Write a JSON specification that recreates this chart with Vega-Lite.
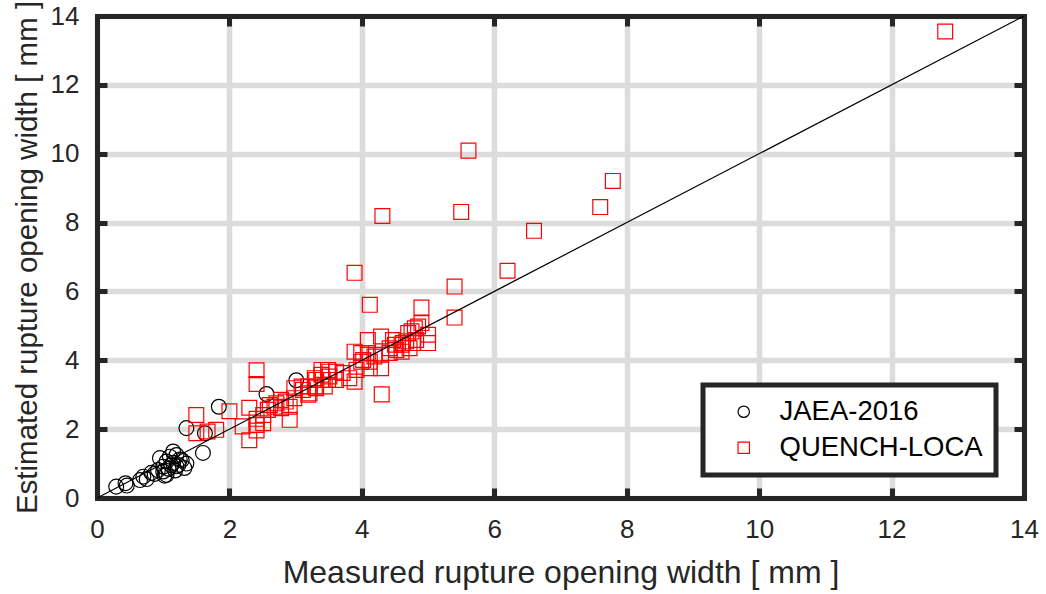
{
  "$schema": "https://vega.github.io/schema/vega-lite/v6.json",
  "width": 927,
  "height": 482,
  "autosize": "none",
  "padding": {"left": 97, "top": 16, "right": 22, "bottom": 96},
  "background": "white",
  "config": {
    "font": "Liberation Sans",
    "view": {"stroke": null},
    "legend": {"strokeWidth": 5},
    "axis": {
      "domainColor": "#262626",
      "domainWidth": 5,
      "domainCap": "square",
      "tickColor": "#262626",
      "tickWidth": 5,
      "tickSize": -10,
      "labelColor": "#262626",
      "labelFont": "Liberation Sans",
      "labelFontSize": 26,
      "labelFlush": false,
      "labelOverlap": false,
      "titleColor": "#262626",
      "titleFont": "Liberation Sans",
      "titleFontWeight": "normal",
      "gridColor": "#dcdcdc",
      "gridWidth": 5.5
    }
  },
  "datasets": {
    "widths": [
      {"dataset": "JAEA-2016", "measured": 0.29, "estimated": 0.33},
      {"dataset": "JAEA-2016", "measured": 0.45, "estimated": 0.36},
      {"dataset": "JAEA-2016", "measured": 0.43, "estimated": 0.43},
      {"dataset": "JAEA-2016", "measured": 0.65, "estimated": 0.52},
      {"dataset": "JAEA-2016", "measured": 0.75, "estimated": 0.55},
      {"dataset": "JAEA-2016", "measured": 0.70, "estimated": 0.62},
      {"dataset": "JAEA-2016", "measured": 0.82, "estimated": 0.73},
      {"dataset": "JAEA-2016", "measured": 0.87, "estimated": 0.70},
      {"dataset": "JAEA-2016", "measured": 0.92, "estimated": 0.81},
      {"dataset": "JAEA-2016", "measured": 0.95, "estimated": 1.16},
      {"dataset": "JAEA-2016", "measured": 1.00, "estimated": 0.91},
      {"dataset": "JAEA-2016", "measured": 1.00, "estimated": 0.77},
      {"dataset": "JAEA-2016", "measured": 1.02, "estimated": 0.65},
      {"dataset": "JAEA-2016", "measured": 1.05, "estimated": 1.06},
      {"dataset": "JAEA-2016", "measured": 1.05, "estimated": 0.67},
      {"dataset": "JAEA-2016", "measured": 1.08, "estimated": 0.85},
      {"dataset": "JAEA-2016", "measured": 1.10, "estimated": 1.20},
      {"dataset": "JAEA-2016", "measured": 1.12, "estimated": 0.95},
      {"dataset": "JAEA-2016", "measured": 1.15, "estimated": 1.02},
      {"dataset": "JAEA-2016", "measured": 1.15, "estimated": 1.35},
      {"dataset": "JAEA-2016", "measured": 1.18, "estimated": 0.80},
      {"dataset": "JAEA-2016", "measured": 1.20, "estimated": 1.25},
      {"dataset": "JAEA-2016", "measured": 1.20, "estimated": 0.92},
      {"dataset": "JAEA-2016", "measured": 1.23, "estimated": 0.96},
      {"dataset": "JAEA-2016", "measured": 1.25, "estimated": 1.12},
      {"dataset": "JAEA-2016", "measured": 1.28, "estimated": 1.10},
      {"dataset": "JAEA-2016", "measured": 1.32, "estimated": 0.87},
      {"dataset": "JAEA-2016", "measured": 1.35, "estimated": 1.00},
      {"dataset": "JAEA-2016", "measured": 1.35, "estimated": 2.03},
      {"dataset": "JAEA-2016", "measured": 1.60, "estimated": 1.31},
      {"dataset": "JAEA-2016", "measured": 1.63, "estimated": 1.88},
      {"dataset": "JAEA-2016", "measured": 1.84, "estimated": 2.65},
      {"dataset": "JAEA-2016", "measured": 2.56, "estimated": 3.02},
      {"dataset": "JAEA-2016", "measured": 3.01, "estimated": 3.42},
      {"dataset": "QUENCH-LOCA", "measured": 12.81, "estimated": 13.55},
      {"dataset": "QUENCH-LOCA", "measured": 5.61, "estimated": 10.09},
      {"dataset": "QUENCH-LOCA", "measured": 7.79, "estimated": 9.21},
      {"dataset": "QUENCH-LOCA", "measured": 7.60, "estimated": 8.45},
      {"dataset": "QUENCH-LOCA", "measured": 4.31, "estimated": 8.19},
      {"dataset": "QUENCH-LOCA", "measured": 5.50, "estimated": 8.31},
      {"dataset": "QUENCH-LOCA", "measured": 6.60, "estimated": 7.76},
      {"dataset": "QUENCH-LOCA", "measured": 6.20, "estimated": 6.60},
      {"dataset": "QUENCH-LOCA", "measured": 3.89, "estimated": 6.54},
      {"dataset": "QUENCH-LOCA", "measured": 5.40, "estimated": 6.14},
      {"dataset": "QUENCH-LOCA", "measured": 4.12, "estimated": 5.61},
      {"dataset": "QUENCH-LOCA", "measured": 5.40, "estimated": 5.24},
      {"dataset": "QUENCH-LOCA", "measured": 4.90, "estimated": 5.53},
      {"dataset": "QUENCH-LOCA", "measured": 4.90, "estimated": 5.08},
      {"dataset": "QUENCH-LOCA", "measured": 4.30, "estimated": 3.01},
      {"dataset": "QUENCH-LOCA", "measured": 1.50, "estimated": 2.41},
      {"dataset": "QUENCH-LOCA", "measured": 1.50, "estimated": 1.88},
      {"dataset": "QUENCH-LOCA", "measured": 1.67, "estimated": 1.93},
      {"dataset": "QUENCH-LOCA", "measured": 1.80, "estimated": 1.98},
      {"dataset": "QUENCH-LOCA", "measured": 2.00, "estimated": 2.52},
      {"dataset": "QUENCH-LOCA", "measured": 2.41, "estimated": 3.71},
      {"dataset": "QUENCH-LOCA", "measured": 2.41, "estimated": 3.31},
      {"dataset": "QUENCH-LOCA", "measured": 2.30, "estimated": 2.62},
      {"dataset": "QUENCH-LOCA", "measured": 2.20, "estimated": 2.08},
      {"dataset": "QUENCH-LOCA", "measured": 2.30, "estimated": 1.68},
      {"dataset": "QUENCH-LOCA", "measured": 2.41, "estimated": 2.30},
      {"dataset": "QUENCH-LOCA", "measured": 2.41, "estimated": 2.12},
      {"dataset": "QUENCH-LOCA", "measured": 2.41, "estimated": 1.96},
      {"dataset": "QUENCH-LOCA", "measured": 2.51, "estimated": 2.17},
      {"dataset": "QUENCH-LOCA", "measured": 2.51, "estimated": 2.41},
      {"dataset": "QUENCH-LOCA", "measured": 2.58, "estimated": 2.56},
      {"dataset": "QUENCH-LOCA", "measured": 2.61, "estimated": 2.70},
      {"dataset": "QUENCH-LOCA", "measured": 2.68, "estimated": 2.65},
      {"dataset": "QUENCH-LOCA", "measured": 2.71, "estimated": 2.75},
      {"dataset": "QUENCH-LOCA", "measured": 2.78, "estimated": 2.85},
      {"dataset": "QUENCH-LOCA", "measured": 2.78, "estimated": 2.61},
      {"dataset": "QUENCH-LOCA", "measured": 2.85, "estimated": 2.80},
      {"dataset": "QUENCH-LOCA", "measured": 2.91, "estimated": 2.27},
      {"dataset": "QUENCH-LOCA", "measured": 2.91, "estimated": 2.65},
      {"dataset": "QUENCH-LOCA", "measured": 2.98, "estimated": 2.90},
      {"dataset": "QUENCH-LOCA", "measured": 2.98, "estimated": 3.19},
      {"dataset": "QUENCH-LOCA", "measured": 3.09, "estimated": 3.24},
      {"dataset": "QUENCH-LOCA", "measured": 3.11, "estimated": 3.14},
      {"dataset": "QUENCH-LOCA", "measured": 3.19, "estimated": 3.00},
      {"dataset": "QUENCH-LOCA", "measured": 3.19, "estimated": 3.24},
      {"dataset": "QUENCH-LOCA", "measured": 3.21, "estimated": 3.04},
      {"dataset": "QUENCH-LOCA", "measured": 3.29, "estimated": 3.24},
      {"dataset": "QUENCH-LOCA", "measured": 3.29, "estimated": 3.48},
      {"dataset": "QUENCH-LOCA", "measured": 3.31, "estimated": 3.19},
      {"dataset": "QUENCH-LOCA", "measured": 3.31, "estimated": 3.43},
      {"dataset": "QUENCH-LOCA", "measured": 3.39, "estimated": 3.58},
      {"dataset": "QUENCH-LOCA", "measured": 3.39, "estimated": 3.72},
      {"dataset": "QUENCH-LOCA", "measured": 3.41, "estimated": 3.43},
      {"dataset": "QUENCH-LOCA", "measured": 3.44, "estimated": 3.24},
      {"dataset": "QUENCH-LOCA", "measured": 3.49, "estimated": 3.72},
      {"dataset": "QUENCH-LOCA", "measured": 3.49, "estimated": 3.43},
      {"dataset": "QUENCH-LOCA", "measured": 3.51, "estimated": 3.53},
      {"dataset": "QUENCH-LOCA", "measured": 3.51, "estimated": 3.67},
      {"dataset": "QUENCH-LOCA", "measured": 3.61, "estimated": 3.67},
      {"dataset": "QUENCH-LOCA", "measured": 3.61, "estimated": 3.43},
      {"dataset": "QUENCH-LOCA", "measured": 3.71, "estimated": 3.63},
      {"dataset": "QUENCH-LOCA", "measured": 3.81, "estimated": 3.48},
      {"dataset": "QUENCH-LOCA", "measured": 3.89, "estimated": 4.25},
      {"dataset": "QUENCH-LOCA", "measured": 3.89, "estimated": 3.38},
      {"dataset": "QUENCH-LOCA", "measured": 3.92, "estimated": 3.72},
      {"dataset": "QUENCH-LOCA", "measured": 3.99, "estimated": 4.21},
      {"dataset": "QUENCH-LOCA", "measured": 3.99, "estimated": 3.96},
      {"dataset": "QUENCH-LOCA", "measured": 4.02, "estimated": 4.01},
      {"dataset": "QUENCH-LOCA", "measured": 4.09, "estimated": 4.59},
      {"dataset": "QUENCH-LOCA", "measured": 4.09, "estimated": 4.21},
      {"dataset": "QUENCH-LOCA", "measured": 4.12, "estimated": 3.96},
      {"dataset": "QUENCH-LOCA", "measured": 4.12, "estimated": 3.77},
      {"dataset": "QUENCH-LOCA", "measured": 4.19, "estimated": 4.11},
      {"dataset": "QUENCH-LOCA", "measured": 4.29, "estimated": 4.69},
      {"dataset": "QUENCH-LOCA", "measured": 4.29, "estimated": 4.16},
      {"dataset": "QUENCH-LOCA", "measured": 4.29, "estimated": 3.77},
      {"dataset": "QUENCH-LOCA", "measured": 4.42, "estimated": 4.21},
      {"dataset": "QUENCH-LOCA", "measured": 4.42, "estimated": 4.35},
      {"dataset": "QUENCH-LOCA", "measured": 4.47, "estimated": 4.59},
      {"dataset": "QUENCH-LOCA", "measured": 4.50, "estimated": 4.45},
      {"dataset": "QUENCH-LOCA", "measured": 4.52, "estimated": 4.30},
      {"dataset": "QUENCH-LOCA", "measured": 4.60, "estimated": 4.45},
      {"dataset": "QUENCH-LOCA", "measured": 4.60, "estimated": 4.25},
      {"dataset": "QUENCH-LOCA", "measured": 4.62, "estimated": 4.50},
      {"dataset": "QUENCH-LOCA", "measured": 4.67, "estimated": 4.55},
      {"dataset": "QUENCH-LOCA", "measured": 4.70, "estimated": 4.79},
      {"dataset": "QUENCH-LOCA", "measured": 4.72, "estimated": 4.35},
      {"dataset": "QUENCH-LOCA", "measured": 4.75, "estimated": 4.84},
      {"dataset": "QUENCH-LOCA", "measured": 4.77, "estimated": 4.50},
      {"dataset": "QUENCH-LOCA", "measured": 4.80, "estimated": 4.93},
      {"dataset": "QUENCH-LOCA", "measured": 4.82, "estimated": 4.59},
      {"dataset": "QUENCH-LOCA", "measured": 4.85, "estimated": 4.98},
      {"dataset": "QUENCH-LOCA", "measured": 5.00, "estimated": 4.74},
      {"dataset": "QUENCH-LOCA", "measured": 5.00, "estimated": 4.50}
    ]
  },
  "layer": [
    {
      "data": {"name": "widths"},
      "mark": {"type": "point", "filled": false, "strokeWidth": 1.2, "opacity": 1, "size": 220},
      "encoding": {
        "x": {
          "field": "measured",
          "type": "quantitative",
          "scale": {"domain": [0, 14], "nice": false, "zero": false},
          "axis": {
            "orient": "bottom",
            "values": [0, 2, 4, 6, 8, 10, 12, 14],
            "grid": true,
            "title": "Measured rupture opening width [ mm ]",
            "titleFontSize": 32,
            "labelPadding": 28,
            "titlePadding": 15
          }
        },
        "y": {
          "field": "estimated",
          "type": "quantitative",
          "scale": {"domain": [0, 14], "nice": false, "zero": false},
          "axis": {
            "orient": "left",
            "values": [0, 2, 4, 6, 8, 10, 12, 14],
            "grid": true,
            "title": "Estimated rupture opening width [ mm ]",
            "titleFontSize": 29.5,
            "labelPadding": 28,
            "titlePadding": 8
          }
        },
        "shape": {
          "field": "dataset",
          "type": "nominal",
          "scale": {"domain": ["JAEA-2016", "QUENCH-LOCA"], "range": ["circle", "square"]},
          "legend": {
            "title": null,
            "orient": "none",
            "legendX": 606,
            "legendY": 369,
            "fillColor": "white",
            "strokeColor": "#262626",
            "padding": 13,
            "symbolSize": 130,
            "symbolStrokeWidth": 1.2,
            "symbolOffset": 14,
            "labelFont": "Liberation Sans",
            "labelFontSize": 27.5,
            "labelColor": "black",
            "labelOffset": 22,
            "rowPadding": 7,
            "labelLimit": 400
          }
        },
        "color": {
          "field": "dataset",
          "type": "nominal",
          "scale": {"domain": ["JAEA-2016", "QUENCH-LOCA"], "range": ["#000000", "#ff0000"]}
        }
      }
    },
    {
      "data": {"values": [{}]},
      "mark": {"type": "rule", "color": "black", "strokeWidth": 1.2},
      "encoding": {
        "x": {
          "datum": 0,
          "type": "quantitative",
          "axis": {"orient": "top", "values": [0, 2, 4, 6, 8, 10, 12, 14], "labels": false, "grid": false, "title": null}
        },
        "y": {
          "datum": 0,
          "type": "quantitative",
          "axis": {"orient": "right", "values": [0, 2, 4, 6, 8, 10, 12, 14], "labels": false, "grid": false, "title": null}
        },
        "x2": {"datum": 14},
        "y2": {"datum": 14}
      }
    }
  ],
  "resolve": {"axis": {"x": "independent", "y": "independent"}}
}
